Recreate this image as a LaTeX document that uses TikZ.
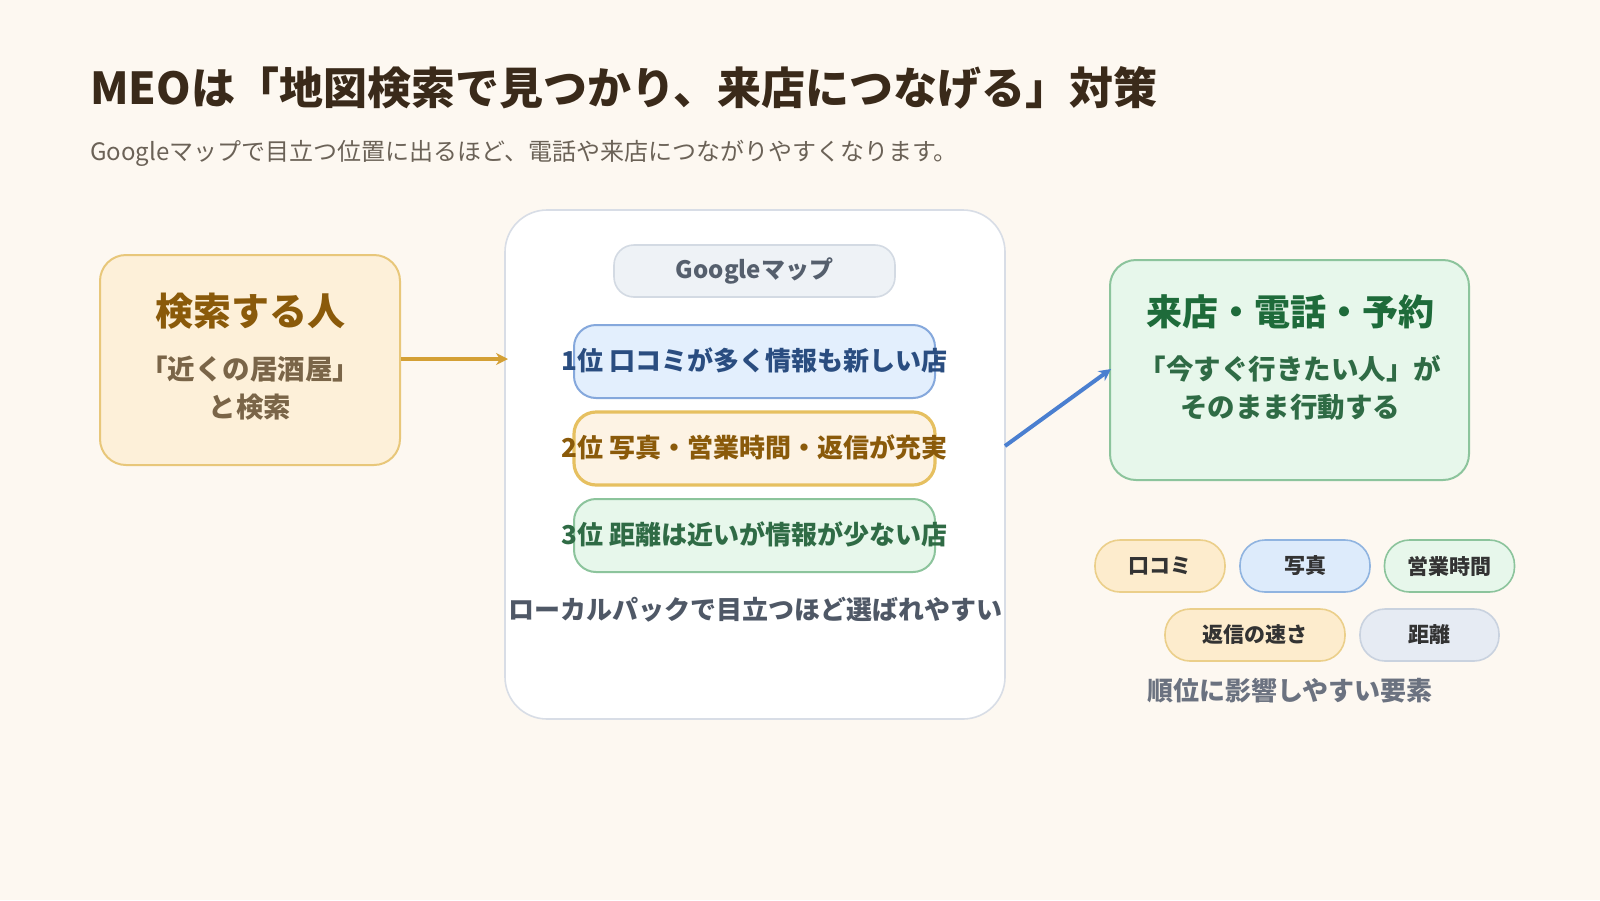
\documentclass[tikz,border=0pt]{standalone}
\usepackage{fontspec}
\setmainfont{Noto Sans CJK JP}
\usetikzlibrary{arrows.meta}
\definecolor{bg}{HTML}{FDF8F1}
\definecolor{titlec}{HTML}{3A2A1A}
\definecolor{subc}{HTML}{6B6257}
\definecolor{orfill}{HTML}{FDF0D9}
\definecolor{ordraw}{HTML}{E8C77A}
\definecolor{ortext}{HTML}{8A5A0A}
\definecolor{orsub}{HTML}{7A6548}
\definecolor{gold}{HTML}{D4A035}
\definecolor{panel}{HTML}{D8DDE6}
\definecolor{gmfill}{HTML}{EEF2F6}
\definecolor{gmdraw}{HTML}{D3DAE3}
\definecolor{gmtext}{HTML}{555F6D}
\definecolor{blfill}{HTML}{E3EFFD}
\definecolor{bldraw}{HTML}{85A8DC}
\definecolor{bltext}{HTML}{2A4D80}
\definecolor{r2fill}{HTML}{FDF3E4}
\definecolor{r2draw}{HTML}{E6C060}
\definecolor{grfill}{HTML}{E7F7EB}
\definecolor{grdraw}{HTML}{8CC49C}
\definecolor{grtext}{HTML}{2F6B45}
\definecolor{grtitle}{HTML}{1E6B3A}
\definecolor{captc}{HTML}{4F5866}
\definecolor{arrb}{HTML}{4A7FD0}
\definecolor{ptext}{HTML}{333333}
\definecolor{dfill}{HTML}{E6EBF3}
\definecolor{ddraw}{HTML}{C9D2DF}
\definecolor{pcap}{HTML}{6B7280}
\definecolor{pofill}{HTML}{FDECCD}
\definecolor{podraw}{HTML}{EBCF8A}
\definecolor{pbfill}{HTML}{DDEBFB}
\definecolor{pbdraw}{HTML}{90B4E0}
\newcommand{\fs}[1]{\fontsize{#1}{#1}\selectfont}
\tikzset{
  card/.style={draw, line width=2pt, rounded corners=26pt, inner sep=0pt},
  rankbox/.style={draw, line width=2pt, rounded corners=22pt, inner sep=0pt, minimum width=361pt, minimum height=73pt},
  pill/.style={draw, line width=1.6pt, rounded corners=25pt, inner sep=0pt, minimum height=52pt, font=\fs{21}\bfseries, text=ptext},
  conn/.style={line width=4pt, -{Stealth[length=12pt,width=12pt]}},
}
\begin{document}
\begin{tikzpicture}[x=1pt,y=-1pt]
\fill[bg] (0,0) rectangle (1600,900);
\useasboundingbox (0,0) rectangle (1600,900);
% title
\node[anchor=west, text=titlec, font=\fs{44}\bfseries, inner sep=0pt] (title) at (90,88) {MEOは「地図検索で見つかり、来店につなげる」対策};
\node[anchor=west, text=subc, font=\fs{24}, inner sep=0pt] (sub) at (90,153) {Googleマップで目立つ位置に出るほど、電話や来店につながりやすくなります。};
% left card
\node[card, fill=orfill, draw=ordraw, minimum width=300pt, minimum height=210pt] (left) at (250,360) {};
\node[text=ortext, font=\fs{38}\bfseries] (lt) at (250,311) {検索する人};
\node[text=orsub, font=\fs{27.5}\bfseries, align=center, inner sep=0pt] (ls) at (250,388) {「近くの居酒屋」\\[11pt]と検索};
% center panel
\node[draw=panel, fill=white, line width=1.6pt, rounded corners=42pt, minimum width=500pt, minimum height=509pt, inner sep=0pt] (panel) at (755,464.5) {};
\node[draw=gmdraw, fill=gmfill, line width=1.6pt, rounded corners=20pt, minimum width=281pt, minimum height=52pt, inner sep=0pt, text=gmtext, font=\fs{24}\bfseries] (gm) at (754.5,271) {Googleマップ};
\node[rankbox, fill=blfill, draw=bldraw] (r1) at (754.5,361.5) {};
\node[text=bltext, font=\fs{26}\bfseries, inner sep=0pt] (t1) at (754.5,360) {1位 口コミが多く情報も新しい店};
\node[rankbox, fill=r2fill, draw=r2draw, line width=3.2pt] (r2) at (754.5,448.5) {};
\node[text=ortext, font=\fs{26}\bfseries, inner sep=0pt] (t2) at (754.5,447) {2位 写真・営業時間・返信が充実};
\node[rankbox, fill=grfill, draw=grdraw] (r3) at (754.5,535.5) {};
\node[text=grtext, font=\fs{26}\bfseries, inner sep=0pt] (t3) at (754.5,534) {3位 距離は近いが情報が少ない店};
\node[text=captc, font=\fs{26}\bfseries, inner sep=0pt] (cap) at (755,610) {ローカルパックで目立つほど選ばれやすい};
% right card
\node[card, fill=grfill, draw=grdraw, minimum width=359pt, minimum height=220pt] (right) at (1289.5,370) {};
\node[text=grtitle, font=\fs{36}\bfseries] (rt) at (1290,312) {来店・電話・予約};
\node[text=grtext, font=\fs{27.5}\bfseries, align=center, inner sep=0pt] (rs) at (1290,388) {「今すぐ行きたい人」が\\[11pt]そのまま行動する};
% connectors
\coordinate (a1s) at (400,359);
\coordinate (a1e) at (508,359);
\draw[conn, draw=gold, fill=gold] (left.east |- a1s) -- (a1e);
\coordinate (a2s) at (1005,446);
\coordinate (a2e) at (1111,369);
\draw[conn, draw=arrb, fill=arrb] (a2s) -- (a2e);
% pills
\node[pill, fill=pofill, draw=podraw, minimum width=130pt] (p1) at (1160,566) {口コミ};
\node[pill, fill=pbfill, draw=pbdraw, minimum width=130pt] (p2) at (1305,566) {写真};
\node[pill, fill=grfill, draw=grdraw, minimum width=130pt] (p3) at (1449.5,566) {営業時間};
\node[pill, fill=pofill, draw=podraw, minimum width=180pt] (p4) at (1255,635) {返信の速さ};
\node[pill, fill=dfill, draw=ddraw, minimum width=139pt] (p5) at (1429.5,635) {距離};
\node[text=pcap, font=\fs{26}\bfseries, inner sep=0pt] (pc) at (1290,691) {順位に影響しやすい要素};
\end{tikzpicture}
\end{document}
